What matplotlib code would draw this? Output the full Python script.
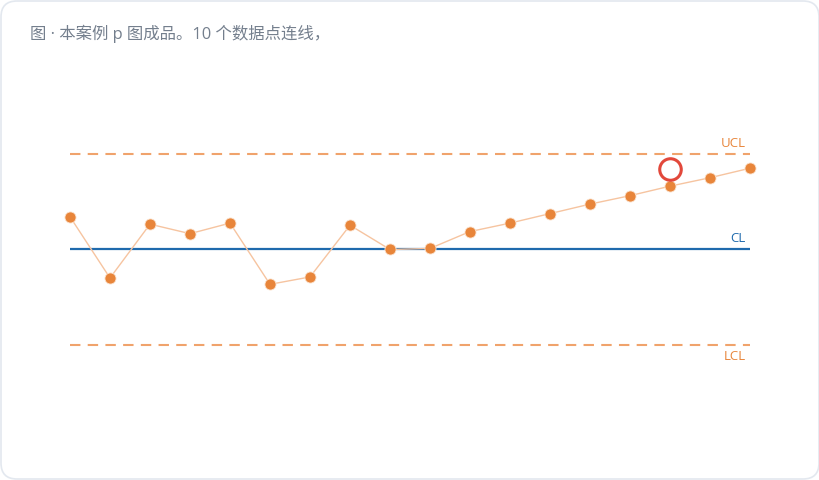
import matplotlib
matplotlib.use("Agg")
import matplotlib.pyplot as plt
from matplotlib.patches import FancyBboxPatch

plt.rcParams['font.family'] = ['Open Sans', 'Noto Sans CJK SC', 'DejaVu Sans']

# ---- data ----
title = "图 · 本案例 p 图成品。10 个数据点连线，"
samples = list(range(1, 19))
p_values = [0.131, 0.073, 0.124, 0.115, 0.125, 0.067, 0.074, 0.123, 0.100,
            0.101, 0.117, 0.125, 0.134, 0.143, 0.151, 0.160, 0.168, 0.177]
ucl = 0.190
cl = 0.100
lcl = 0.010
highlight_sample = 16
highlight_value = 0.176
limit_labels = ["UCL", "CL", "LCL"]

W, H = 820, 480
fig = plt.figure(figsize=(W / 100, H / 100), dpi=100)
fig.patch.set_facecolor("white")

# background card
bg = fig.add_axes([0, 0, 1, 1])
bg.set_xlim(0, W)
bg.set_ylim(H, 0)
bg.axis("off")
bg.add_patch(FancyBboxPatch((1, 1), W - 2, H - 2,
                            boxstyle="round,pad=0,rounding_size=16",
                            facecolor="white", edgecolor="#e3e8ef", linewidth=1.2))
bg.text(30, 34, title, fontsize=11.8, color="#747f8d", va="center", ha="left")

# chart axes: x 70..750 px, y 100..400 px
ax_left, ax_right, ax_top, ax_bot = 70, 750, 100, 400
ax = fig.add_axes([ax_left / W, 1 - ax_bot / H, (ax_right - ax_left) / W, (ax_bot - ax_top) / H])
ax.axis("off")
ax.patch.set_alpha(0)
ax.set_xlim(samples[0], samples[-1])
scale = (ucl - cl) / 95.0
ax.set_ylim(cl - (ax_bot - 249.5) * scale, cl + (249.5 - ax_top) * scale)

orange = "#e8853a"
ax.axhline(ucl, color="#f0a36c", lw=1.5, ls=(0, (5, 3.5)), zorder=1)
ax.axhline(lcl, color="#f0a36c", lw=1.5, ls=(0, (5, 3.5)), zorder=1)
ax.axhline(cl, color="#1f6aad", lw=1.6, zorder=2)

ax.plot(samples, p_values, color="#f6c4a0", lw=1.0, zorder=3, clip_on=False)
ax.plot(samples, p_values, ls="none", marker="o", markersize=8, clip_on=False,
        markerfacecolor=orange, markeredgecolor="#fbe3d0", markeredgewidth=0.6, zorder=4)

ax.plot([highlight_sample], [highlight_value], ls="none", marker="o", markersize=15.5,
        markerfacecolor="none", markeredgecolor="#e2483b", markeredgewidth=2.2, zorder=5,
        clip_on=False)

xr = samples[-1] - 0.1
ax.annotate(limit_labels[0], (xr, ucl), xytext=(0, 3.5), textcoords="offset points",
            ha="right", va="bottom", fontsize=9.5, color=orange)
ax.annotate(limit_labels[1], (xr, cl), xytext=(0, 3.5), textcoords="offset points",
            ha="right", va="bottom", fontsize=9.5, color="#1f6aad")
ax.annotate(limit_labels[2], (xr, lcl), xytext=(0, -4), textcoords="offset points",
            ha="right", va="top", fontsize=9.5, color=orange)

fig.savefig("out.png", dpi=100, facecolor="white")
